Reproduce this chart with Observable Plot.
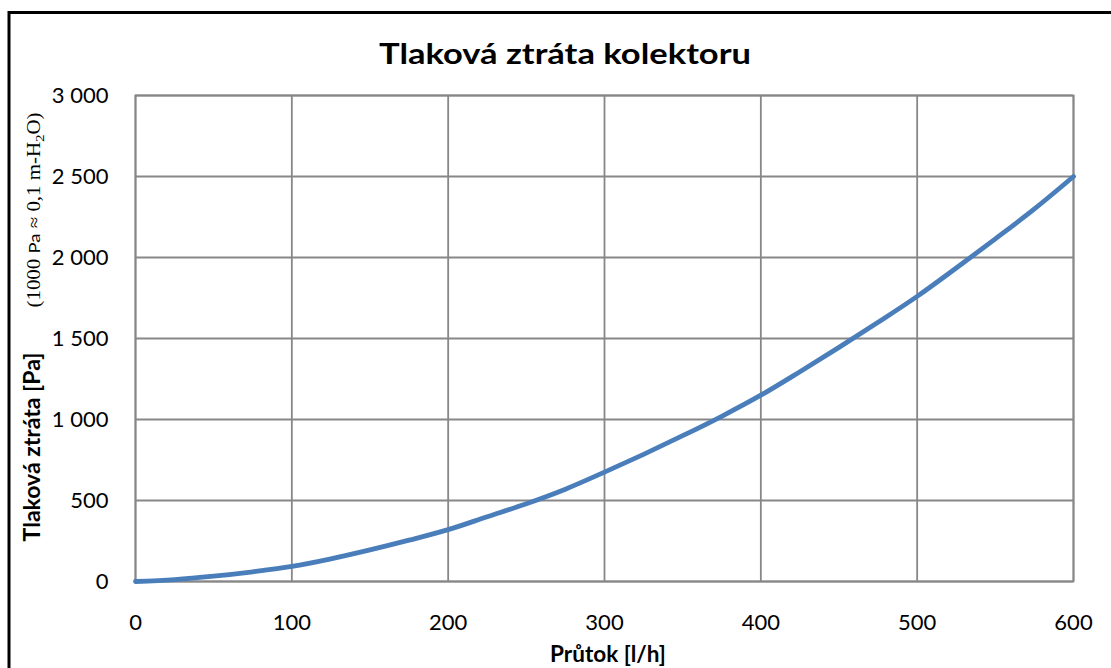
<!DOCTYPE html>
<html>
<head>
<meta charset="utf-8">
<script src="https://cdn.jsdelivr.net/npm/d3@7"></script>
<script src="https://cdn.jsdelivr.net/npm/@observablehq/plot@0.6"></script>
<style>
  html, body { margin: 0; padding: 0; background: #fff; overflow: hidden; }
  svg { display: block; }
</style>
</head>
<body>
<div id="chart"></div>
<script>
// Data
const flow = [0, 25, 50, 75, 100, 125, 150, 175, 200, 225, 250, 275, 300, 325, 350, 375, 400, 425, 450, 475, 500, 525, 550, 575, 600];
const loss = [0, 12, 33, 60, 93, 140, 195, 255, 320, 400, 480, 570, 675, 785, 900, 1020, 1150, 1295, 1445, 1600, 1760, 1935, 2115, 2300, 2500];
const xTicks = [0, 100, 200, 300, 400, 500, 600];
const yTicks = [0, 500, 1000, 1500, 2000, 2500, 3000];
const titleText = "Tlaková ztráta kolektoru";
const xLabel = "Průtok [l/h]";
const yLabel = "Tlaková ztráta [Pa]";

const data = flow.map((f, i) => ({ flow: f, loss: loss[i] }));
const fmt = d => d3.format(",")(d).replace(/,/g, "\u00a0");
const FONT = "Lato, 'Open Sans', sans-serif";

const plot = Plot.plot({
  width: 1111,
  height: 668,
  marginLeft: 135,
  marginRight: 38,
  marginTop: 95,
  marginBottom: 87,
  style: { fontFamily: FONT, fontSize: "22px", color: "#000", background: "#fff" },
  x: { domain: [0, 600], ticks: xTicks },
  y: { domain: [0, 3000], ticks: yTicks },
  marks: [
    Plot.gridX(xTicks, { stroke: "#878787", strokeOpacity: 1, strokeWidth: 1.8 }),
    Plot.gridY(yTicks, { stroke: "#878787", strokeOpacity: 1, strokeWidth: 1.8 }),
    Plot.frame({ stroke: "#878787", strokeWidth: 1.8 }),
    Plot.axisX(xTicks, { tickSize: 0, tickPadding: 33, label: null, fontSize: 22 }),
    Plot.axisY(yTicks, { tickSize: 0, tickPadding: 27, label: null, tickFormat: fmt, fontSize: 22 }),
    Plot.line(data, { x: "flow", y: "loss", stroke: "#4a7ebb", strokeWidth: 4.8, curve: "catmull-rom" })
  ]
});

const svg = d3.select(plot);
svg.append("text")
  .attr("x", 565).attr("y", 64)
  .attr("text-anchor", "middle")
  .attr("font-family", FONT)
  .attr("font-weight", "bold")
  .attr("font-size", 28)
  .attr("textLength", 372)
  .attr("lengthAdjust", "spacingAndGlyphs")
  .text(titleText);

svg.append("text")
  .attr("x", 608).attr("y", 662)
  .attr("text-anchor", "middle")
  .attr("font-family", FONT)
  .attr("font-weight", "bold")
  .attr("font-size", 22.5)
  .text(xLabel);

svg.append("text")
  .attr("transform", "translate(40,447) rotate(-90)")
  .attr("text-anchor", "middle")
  .attr("font-family", FONT)
  .attr("font-weight", "bold")
  .attr("font-size", 23)
  .text(yLabel);

const sub = svg.append("text")
  .attr("transform", "translate(40,210) rotate(-90)")
  .attr("text-anchor", "middle")
  .attr("font-family", "'Liberation Serif', 'DejaVu Serif', serif")
  .attr("font-size", 18)
  .attr("textLength", 195)
  .attr("lengthAdjust", "spacingAndGlyphs");
sub.append("tspan").text("(1000 ");
sub.append("tspan").attr("font-family", FONT).attr("font-size", 16).text("Pa");
sub.append("tspan").text(" \u2248 0,1 m-H");
sub.append("tspan").attr("font-size", 13).attr("dy", 4).text("2");
sub.append("tspan").attr("dy", -4).text("O)");

svg.append("rect")
  .attr("x", 9).attr("y", 12.5)
  .attr("width", 1200).attr("height", 700)
  .attr("fill", "none")
  .attr("stroke", "#000")
  .attr("stroke-width", 3);

document.getElementById("chart").appendChild(plot);
</script>
</body>
</html>
